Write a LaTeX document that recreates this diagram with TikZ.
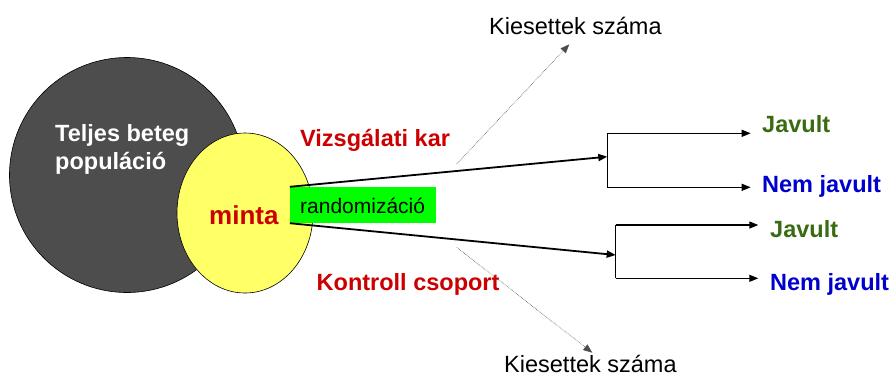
\documentclass[tikz,border=0pt]{standalone}
\usepackage{fontspec}
\setmainfont{Liberation Sans}
\usetikzlibrary{arrows.meta}
\definecolor{darkpop}{HTML}{4D4D4D}
\definecolor{sampley}{HTML}{FFFF66}
\definecolor{redtxt}{HTML}{CC0000}
\definecolor{greentxt}{HTML}{3A6B12}
\definecolor{bluetxt}{HTML}{0000CC}
\definecolor{randgreen}{HTML}{00FF00}
\tikzset{
  lbl/.style={anchor=base west, inner sep=0pt, font=\fontsize{23.5}{28}\selectfont\bfseries},
  plain/.style={anchor=base west, inner sep=0pt, font=\fontsize{23.5}{28}\selectfont},
  mainarrow/.style={line width=1.8pt, -{Triangle[length=9pt,width=7pt]}},
  brline/.style={line width=1.2pt},
  brarrow/.style={line width=1.2pt, -{Triangle[length=9pt,width=7pt]}},
  dotarrow/.style={line width=0.6pt, densely dotted, black!70, -{Triangle[length=9pt,width=7pt]}}
}
\begin{document}
\begin{tikzpicture}[x=1pt,y=-1pt]
\useasboundingbox (0,0) rectangle (893,376);
% population
\node[circle, draw=black, line width=0.6pt, fill=darkpop, minimum size=235pt, inner sep=0pt] (pop) at (127,175) {};
\node[lbl, text=white] (t1) at (55,141) {Teljes beteg};
\node[lbl, text=white] (t2) at (55,169) {populáció};
% sample
\draw[fill=sampley, draw=black, line width=0.6pt] (245,213) ellipse [x radius=68, y radius=80];
\node[lbl, text=redtxt, font=\fontsize{26}{30}\selectfont\bfseries] (minta) at (209,224) {minta};
% randomization box
\node[fill=randgreen, inner sep=0pt, minimum width=146pt, minimum height=36pt] (rand) at (363,205) {};
\node[plain, font=\fontsize{21}{25}\selectfont] (randt) at (300,213.3) {randomizáció};
% arm labels
\node[lbl, text=redtxt] (viz) at (300,146.7) {Vizsgálati kar};
\node[lbl, text=redtxt] (kon) at (316.5,290.7) {Kontroll csoport};
% brackets
\coordinate (b1top) at (607.3,133.3);
\coordinate (b1mid) at (607.3,156.7);
\coordinate (b1bot) at (607.3,187.3);
\coordinate (b2top) at (615.7,225);
\coordinate (b2mid) at (615.7,255);
\coordinate (b2bot) at (615.7,278.3);
\draw[mainarrow] (rand.north west) -- (b1mid);
\draw[mainarrow] (rand.south west) -- (b2mid);
\draw[brline] (b1top) -- (b1bot);
\draw[brline] (b2top) -- (b2bot);
% outcomes
\node[lbl, text=greentxt] (j1) at (762,132.3) {Javult};
\node[lbl, text=bluetxt] (n1) at (762,192.3) {Nem javult};
\node[lbl, text=greentxt] (j2) at (770,237.7) {Javult};
\node[lbl, text=bluetxt] (n2) at (770,290) {Nem javult};
\coordinate (e1) at (750.7,133.3);
\coordinate (e2) at (750.7,187.3);
\coordinate (e3) at (758.3,225);
\coordinate (e4) at (758.3,278.3);
\draw[brarrow] (b1top) -- (e1);
\draw[brarrow] (b1bot) -- (e2);
\draw[brarrow] (b2top) -- (e3);
\draw[brarrow] (b2bot) -- (e4);
% drop-outs
\node[plain] (k1) at (489,34) {Kiesettek száma};
\node[plain] (k2) at (504,372) {Kiesettek száma};
\coordinate (d1s) at (456.7,164);
\coordinate (d1e) at (569.3,44.3);
\coordinate (d2s) at (456.7,247.3);
\coordinate (d2e) at (592.3,352.7);
\draw[dotarrow] (d1s) -- (d1e);
\draw[dotarrow] (d2s) -- (d2e);
\end{tikzpicture}
\end{document}
